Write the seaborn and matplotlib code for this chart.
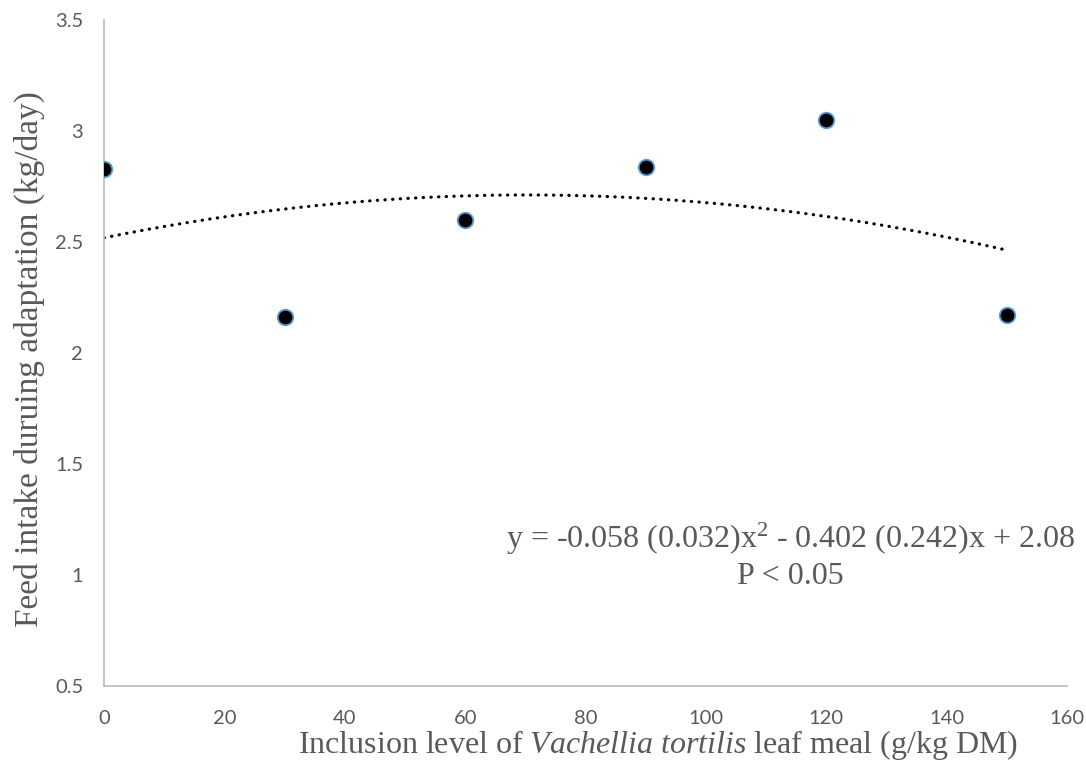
import numpy as np
import pandas as pd
import seaborn as sns
import matplotlib
matplotlib.use("Agg")
import matplotlib.pyplot as plt

# Data
inclusion_level = [0, 30, 60, 90, 120, 150]
feed_intake = [2.83, 2.16, 2.60, 2.84, 3.05, 2.17]
x_ticks = [0, 20, 40, 60, 80, 100, 120, 140, 160]
y_ticks = [0.5, 1, 1.5, 2, 2.5, 3, 3.5]
y_tick_labels = ["0.5", "1", "1.5", "2", "2.5", "3", "3.5"]
equation_text = "y = -0.058 (0.032)x$^{2}$ - 0.402 (0.242)x + 2.08"
p_text = "P < 0.05"

sns.set_theme(style="white")
plt.rcParams['font.family'] = ['Liberation Serif', 'DejaVu Sans']
plt.rcParams['mathtext.fontset'] = 'custom'
plt.rcParams['mathtext.rm'] = 'Liberation Serif'
plt.rcParams['mathtext.it'] = 'Liberation Serif:italic'

fig = plt.figure(figsize=(10.86, 7.78), dpi=100)
ax = fig.add_axes([0.0958, 0.1183, 0.9825 - 0.0958, 0.9743 - 0.1183])

df = pd.DataFrame({"x": inclusion_level, "y": feed_intake})

# Polynomial (order 2) trendline fitted to the data
coef = np.polyfit(df["x"], df["y"], 2)
xs = np.linspace(min(inclusion_level), max(inclusion_level), 300)
trend = pd.DataFrame({"x": xs, "y": np.polyval(coef, xs)})
sns.lineplot(data=trend, x="x", y="y", ax=ax, color="black", linewidth=2.3,
             linestyle=(0, (0.1, 2.3)), dash_capstyle="round", zorder=2)

sns.scatterplot(data=df, x="x", y="y", ax=ax, s=125, color="black",
                edgecolor="#5b9bd5", linewidth=1.3, zorder=3)

ax.set_xlim(0, 160)
ax.set_ylim(0.5, 3.5)
ax.set_xticks(x_ticks)
ax.set_yticks(y_ticks)
ax.set_yticklabels(y_tick_labels)
tick_color = "#595959"
for lab in ax.get_xticklabels() + ax.get_yticklabels():
    lab.set_fontfamily(['Lato', 'DejaVu Sans'])
    lab.set_fontsize(14.5)
    lab.set_color(tick_color)
ax.tick_params(axis="x", length=0, pad=17)
ax.tick_params(axis="y", length=0, pad=15)

for side in ["top", "right"]:
    ax.spines[side].set_visible(False)
for side in ["left", "bottom"]:
    ax.spines[side].set_color("#bfbfbf")
    ax.spines[side].set_linewidth(1.3)

ax.set_xlabel("Inclusion level of $\\mathit{Vachellia\\ tortilis}$ leaf meal (g/kg DM)",
              fontsize=23, color=tick_color)
ax.set_ylabel("Feed intake duruing adaptation (kg/day)", fontsize=24,
              color=tick_color)
ax.xaxis.set_label_coords(0.575, -0.0886)
ax.xaxis.label.set_va("center")
ax.yaxis.set_label_coords(-0.078, 0.491)
ax.yaxis.label.set_va("center")

ax.text(114.1, 1.162, equation_text, fontsize=23, color=tick_color,
        ha="center", va="center")
ax.text(114.1, 0.991, p_text, fontsize=23, color=tick_color,
        ha="center", va="center")

ax.grid(False)
fig.savefig("out.png", dpi=100)
